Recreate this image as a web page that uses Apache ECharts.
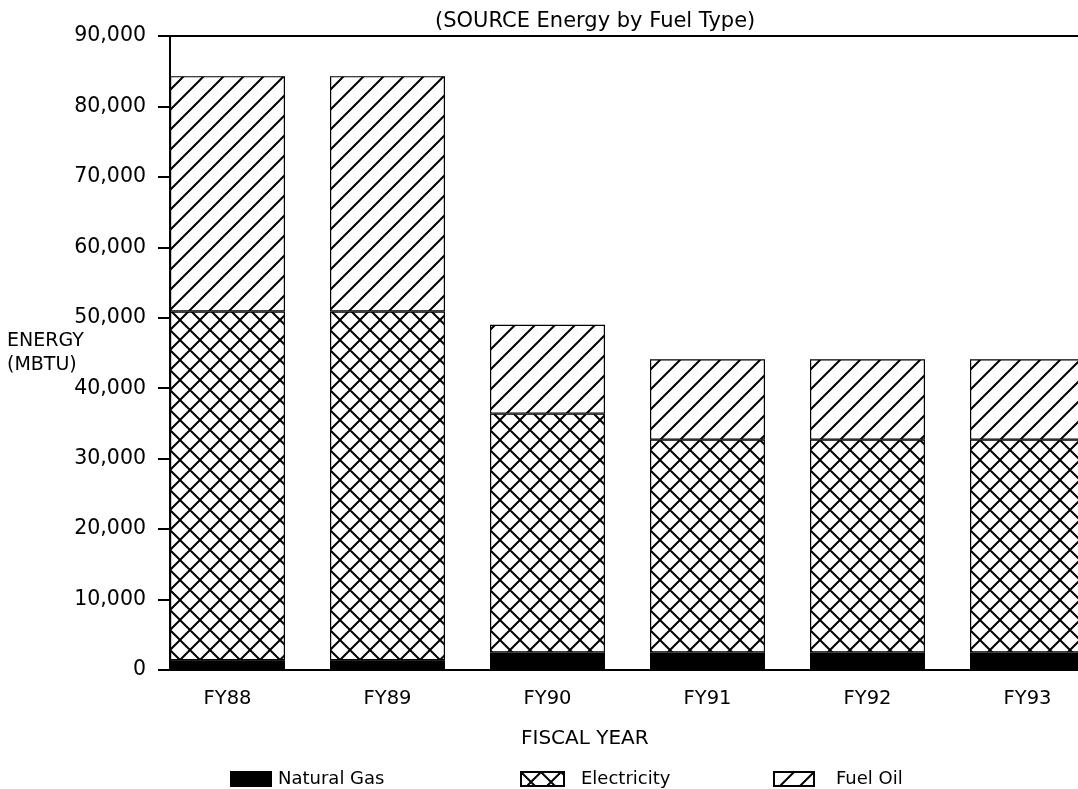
<!DOCTYPE html>
<html>
<head>
<meta charset="utf-8">
<script src="https://cdn.jsdelivr.net/npm/echarts@6/dist/echarts.min.js"></script>
<style>
  html, body { margin: 0; padding: 0; background: #fff; }
  #chart { width: 1078px; height: 789px; }
</style>
</head>
<body>
<div id="chart"></div>
<script>
const categories = ['FY88', 'FY89', 'FY90', 'FY91', 'FY92', 'FY93'];
const naturalGas = [1400, 1400, 2500, 2500, 2500, 2500];
const electricity = [49500, 49500, 33900, 30200, 30200, 30200];
const fuelOil = [33400, 33400, 12600, 11400, 11400, 11400];
const yTicks = [0, 10000, 20000, 30000, 40000, 50000, 60000, 70000, 80000, 90000];

const FONT = 'DejaVu Sans';

// hatch patterns drawn on a small tile
function hatch(cross) {
    const s = 20;
    const c = document.createElement('canvas');
    c.width = s; c.height = s;
    const g = c.getContext('2d');
    g.fillStyle = '#fff';
    g.fillRect(0, 0, s, s);
    g.strokeStyle = '#000';
    g.lineWidth = 2;
    g.beginPath();
    // "/" lines
    g.moveTo(-2, s + 2); g.lineTo(s + 2, -2);
    g.moveTo(-2, 2); g.lineTo(2, -2);
    g.moveTo(s - 2, s + 2); g.lineTo(s + 2, s - 2);
    if (cross) {
        // "\" lines
        g.moveTo(-2, -2); g.lineTo(s + 2, s + 2);
        g.moveTo(s - 2, -2); g.lineTo(s + 2, 2);
        g.moveTo(-2, s - 2); g.lineTo(2, s + 2);
    }
    g.stroke();
    return { image: c, repeat: 'repeat' };
}

const chart = echarts.init(document.getElementById('chart'));

// border is drawn inside each segment, so 1px on both sides of a join makes one 2px line
const barStyle = function(color) {
    return { color: color, borderColor: '#000', borderWidth: 1.2 };
};

const legendText = function(pad) {
    return { fontFamily: FONT, fontSize: 18, color: '#000', padding: [0, 0, 0, pad] };
};

const option = {
    animation: false,
    backgroundColor: '#fff',
    textStyle: { fontFamily: FONT, color: '#000' },
    title: [
        { text: '(SOURCE Energy by Fuel Type)', left: 430, top: 6,
          textStyle: { fontFamily: FONT, fontSize: 21, fontWeight: 'normal', color: '#000' } },
        { text: 'ENERGY\n(MBTU)', left: 2, top: 324,
          textStyle: { fontFamily: FONT, fontSize: 19, fontWeight: 'normal', color: '#000', lineHeight: 24 } },
        { text: 'FISCAL YEAR', left: 516, top: 724,
          textStyle: { fontFamily: FONT, fontSize: 20, fontWeight: 'normal', color: '#000' } }
    ],
    legend: [
        { data: ['Natural Gas'], left: 225, top: 765, itemWidth: 40, itemHeight: 14,
          icon: 'rect', textStyle: legendText(2) },
        { data: ['Electricity'], left: 515, top: 765, itemWidth: 43, itemHeight: 14,
          icon: 'rect', textStyle: legendText(12) },
        { data: ['Fuel Oil'], left: 768, top: 765, itemWidth: 40, itemHeight: 14,
          icon: 'rect', textStyle: legendText(17) }
    ],
    grid: [
        { left: 147.5, width: 960, top: 36, bottom: 119, outerBoundsMode: 'none' },
        { left: 170, right: 0, top: 36, bottom: 119, outerBoundsMode: 'none' }
    ],
    xAxis: [
        {
            type: 'category', gridIndex: 0, data: categories,
            axisLine: { show: false },
            axisTick: { alignWithLabel: true, length: 10, lineStyle: { color: '#000', width: 1.5 } },
            axisLabel: { color: '#000', fontFamily: FONT, fontSize: 19.5, margin: 19 }
        },
        {
            type: 'value', gridIndex: 1, position: 'bottom', min: 0, max: 1,
            axisLine: { show: true, onZero: false, lineStyle: { color: '#000', width: 2 } },
            axisTick: { show: false }, axisLabel: { show: false }, splitLine: { show: false }
        },
        {
            type: 'value', gridIndex: 1, position: 'top', min: 0, max: 1,
            axisLine: { show: true, onZero: false, lineStyle: { color: '#000', width: 2 } },
            axisTick: { show: false }, axisLabel: { show: false }, splitLine: { show: false }
        }
    ],
    yAxis: [
        { type: 'value', gridIndex: 0, min: 0, max: 90000, show: false },
        {
            type: 'value', gridIndex: 1, min: yTicks[0], max: yTicks[yTicks.length - 1], interval: 10000,
            axisLine: { show: true, lineStyle: { color: '#000', width: 2 } },
            axisTick: { show: true, length: 12, lineStyle: { color: '#000', width: 2 } },
            axisLabel: {
                color: '#000', fontFamily: FONT, fontSize: 20.5, margin: 24,
                formatter: function(v) { return v.toLocaleString('en-US'); }
            },
            splitLine: { show: false }
        }
    ],
    series: [
        { name: 'Natural Gas', type: 'bar', stack: 'fuel', xAxisIndex: 0, yAxisIndex: 0,
          barWidth: 115, data: naturalGas, itemStyle: barStyle('#000') },
        { name: 'Electricity', type: 'bar', stack: 'fuel', xAxisIndex: 0, yAxisIndex: 0,
          barWidth: 115, data: electricity, itemStyle: barStyle(hatch(true)) },
        { name: 'Fuel Oil', type: 'bar', stack: 'fuel', xAxisIndex: 0, yAxisIndex: 0,
          barWidth: 115, data: fuelOil, itemStyle: barStyle(hatch(false)) }
    ]
};

chart.setOption(option);
</script>
</body>
</html>
